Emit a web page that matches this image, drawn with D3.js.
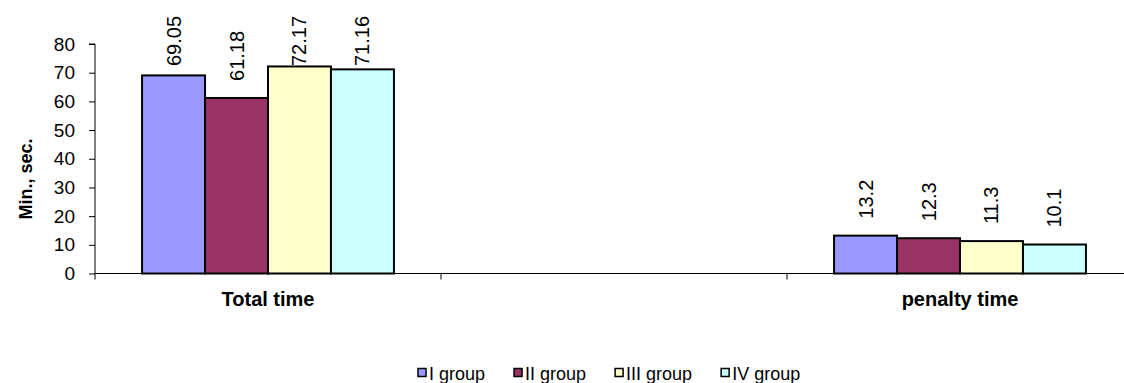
<!DOCTYPE html>
<html>
<head>
<meta charset="utf-8">
<script src="https://cdn.jsdelivr.net/npm/d3@7/dist/d3.min.js"></script>
<style>
  html, body { margin: 0; padding: 0; background: #fff; }
  svg { display: block; font-family: "Liberation Sans", Arial, sans-serif; }
</style>
</head>
<body>
<svg id="chart" width="1124" height="383"></svg>
<script>
// Categories along the x axis (the middle slot is an empty category)
const categories = ["Total time", "", "penalty time"];
const groups = ["I group", "II group", "III group", "IV group"];
// Values per group, one entry per category
const groupI   = [69.05, null, 13.2];
const groupII  = [61.18, null, 12.3];
const groupIII = [72.17, null, 11.3];
const groupIV  = [71.16, null, 10.1];
const yTicks = [0, 10, 20, 30, 40, 50, 60, 70, 80];
const yTitle = "Min., sec.";

const seriesValues = [groupI, groupII, groupIII, groupIV];
const colors = ["#9999FF", "#993366", "#FFFFCC", "#CCFFFF"];

const svg = d3.select("#chart");
const plot = { left: 95, right: 1133, top: 44, bottom: 273.5 };

const x0 = d3.scaleBand().domain(categories.map((c, i) => i))
  .range([plot.left, plot.right]).paddingInner(0).paddingOuter(0);
const bw = x0.bandwidth();
const gap = bw * 0.136;
const x1 = d3.scaleBand().domain(groups).range([gap, bw - gap]).padding(0);
const y = d3.scaleLinear().domain([0, 80]).range([plot.bottom, plot.top]);

// y axis
const yAxis = svg.append("g")
  .attr("transform", `translate(${plot.left},0)`)
  .call(d3.axisLeft(y).tickValues(yTicks).tickSize(6).tickPadding(14).tickFormat(d3.format("d")));
yAxis.select(".domain").attr("stroke", "#000").attr("stroke-width", 1).attr("d", `M-6,${y(80)}H0V${plot.bottom + 6}`);
yAxis.selectAll(".tick line").attr("stroke", "#000");
yAxis.selectAll(".tick text").attr("font-size", 19).attr("fill", "#000")
  .attr("font-family", "Liberation Sans, Arial, sans-serif");

// x axis line and category ticks
const xAxis = svg.append("g").attr("transform", `translate(0,${plot.bottom})`);
xAxis.append("line").attr("x1", plot.left).attr("x2", plot.right)
  .attr("stroke", "#000").attr("stroke-width", 1);
xAxis.selectAll("line.tick").data(categories.map((c, i) => i).slice(1).concat([categories.length]))
  .enter().append("line").attr("class", "tick")
  .attr("x1", d => d < categories.length ? x0(d) : plot.right)
  .attr("x2", d => d < categories.length ? x0(d) : plot.right)
  .attr("y1", 0).attr("y2", 6).attr("stroke", "#000");
xAxis.selectAll("text").data(categories).enter().append("text")
  .attr("x", (c, i) => x0(i) + bw / 2)
  .attr("y", 32)
  .attr("text-anchor", "middle")
  .attr("font-weight", "bold").attr("font-size", 20)
  .text(d => d);

// bars
const bars = [];
seriesValues.forEach((vals, s) => {
  vals.forEach((v, c) => { if (v != null) bars.push({ s, c, v }); });
});
svg.append("g").selectAll("rect").data(bars).enter().append("rect")
  .attr("x", d => x0(d.c) + x1(groups[d.s]))
  .attr("y", d => y(d.v))
  .attr("width", x1.bandwidth())
  .attr("height", d => y(0) - y(d.v))
  .attr("fill", d => colors[d.s])
  .attr("stroke", "#000").attr("stroke-width", 2);

// value labels, rotated, kept inside the top of the drawing area
svg.append("g").selectAll("text").data(bars).enter().append("text")
  .attr("transform", d => {
    const cx = x0(d.c) + x1(groups[d.s]) + x1.bandwidth() / 2 + 7;
    const by = Math.max(y(d.v) - 17, 66);
    return `translate(${cx},${by}) rotate(-90)`;
  })
  .attr("text-anchor", "start")
  .attr("font-size", 20)
  .text(d => String(d.v));

// y axis title
svg.append("text")
  .attr("transform", `translate(31.5,179) rotate(-90)`)
  .attr("text-anchor", "middle")
  .attr("font-weight", "bold").attr("font-size", 18)
  .text(yTitle);

// legend
const legend = svg.append("g");
let lx = 418;
groups.forEach((g, i) => {
  const item = legend.append("g").attr("transform", `translate(${lx},0)`);
  item.append("rect").attr("x", 0).attr("y", 368.5).attr("width", 8).attr("height", 8)
    .attr("fill", colors[i]).attr("stroke", "#000").attr("stroke-width", 1.5);
  const t = item.append("text").attr("x", 11).attr("y", 379.5).attr("font-size", 18).text(g);
  lx += 11 + t.node().getComputedTextLength() + 29;
});
</script>
</body>
</html>
